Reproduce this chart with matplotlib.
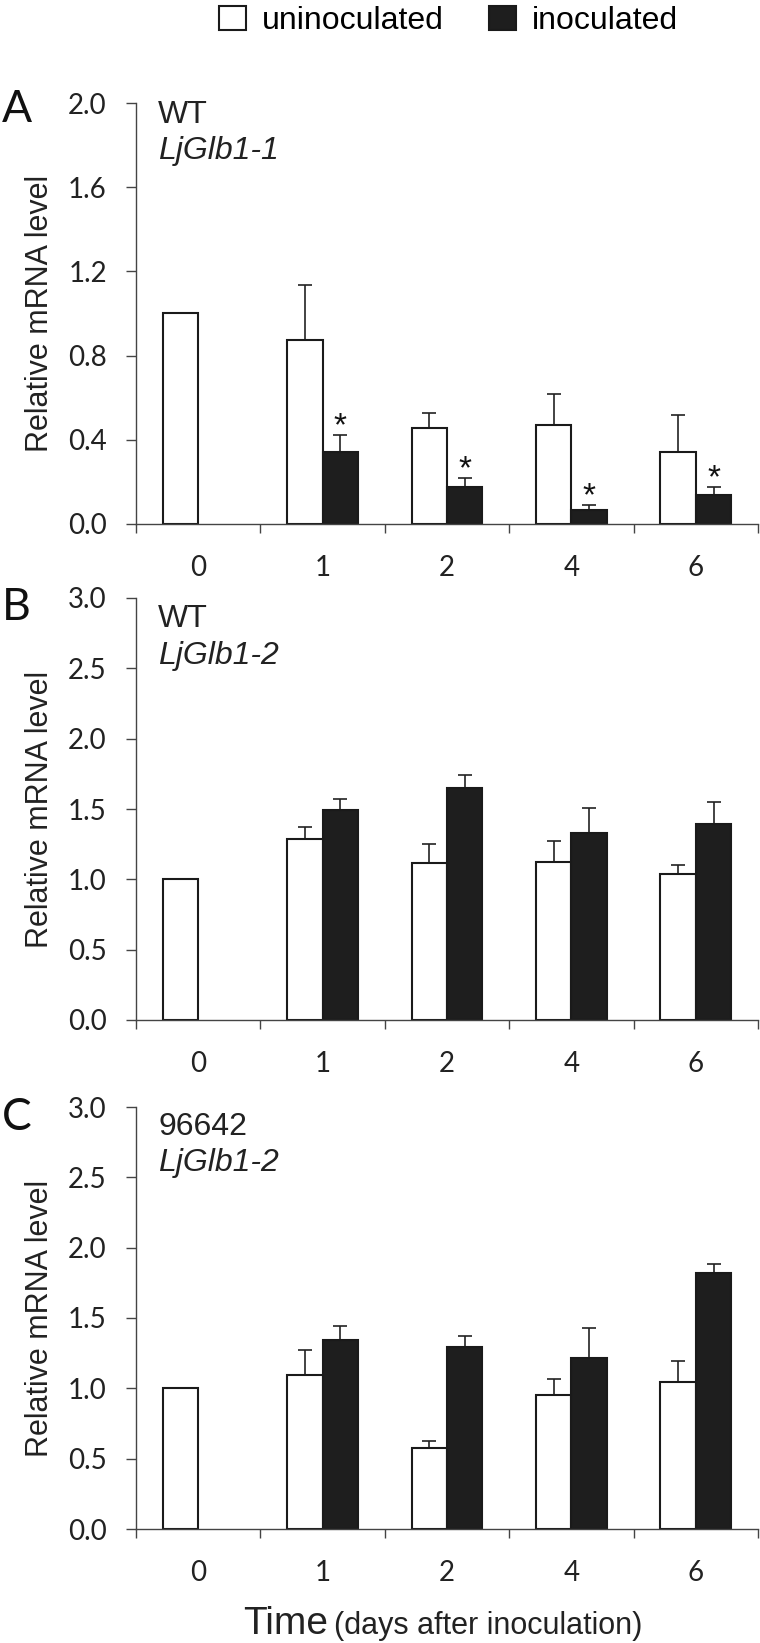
#!/usr/bin/env python3
import numpy as np
import matplotlib
matplotlib.use('Agg')
import matplotlib.pyplot as plt
from matplotlib.patches import Patch

# x categories (days after inoculation)
days = ['0', '1', '2', '4', '6']

# Panel A - WT, LjGlb1-1
a_unino = [1.0, 0.875, 0.456, 0.469, 0.341]
a_unino_err = [0.0, 0.262, 0.071, 0.148, 0.175]
a_ino = [np.nan, 0.340, 0.177, 0.066, 0.137]
a_ino_err = [np.nan, 0.082, 0.041, 0.022, 0.038]
a_sig = [False, True, True, True, True]

# Panel B - WT, LjGlb1-2
b_unino = [1.0, 1.285, 1.117, 1.124, 1.038]
b_unino_err = [0.0, 0.088, 0.137, 0.149, 0.064]
b_ino = [np.nan, 1.494, 1.650, 1.328, 1.396]
b_ino_err = [np.nan, 0.076, 0.095, 0.182, 0.152]
b_sig = [False, False, False, False, False]

# Panel C - 96642, LjGlb1-2
c_unino = [1.0, 1.097, 0.578, 0.952, 1.045]
c_unino_err = [0.0, 0.175, 0.050, 0.112, 0.151]
c_ino = [np.nan, 1.343, 1.296, 1.218, 1.822]
c_ino_err = [np.nan, 0.102, 0.076, 0.209, 0.060]
c_sig = [False, False, False, False, False]

W, H = 760, 1643
TICK_FONT = 'Lato'
TEXT_FONT = 'Liberation Sans'
EDGE = '#1a1a1a'
AXC = '#444444'
BW = 0.285
LEFT = 136


def px_axes(top, bottom, left=LEFT, right=758):
    return [left / W, 1 - bottom / H, (right - left) / W, (bottom - top) / H]


def draw_panel(ax, unino, unino_err, ino, ino_err, sig, ymax, ystep,
               strain, gene, y1, y2):
    x = np.arange(len(days))
    unino = np.array(unino)
    unino_err = np.array(unino_err)
    ino = np.array(ino)
    ino_err = np.array(ino_err)
    has = ~np.isnan(ino)

    ax.bar(x - BW / 2, unino, BW, color='white', edgecolor=EDGE, linewidth=1.5, zorder=2)
    ax.bar(x[has] + BW / 2, ino[has], BW, color='#1e1e1e', edgecolor=EDGE, linewidth=1.5, zorder=2)

    # only the upper half of each error bar is shown
    m = unino_err > 0
    ax.errorbar(x[m] - BW / 2, unino[m], yerr=[np.zeros(m.sum()), unino_err[m]],
                fmt='none', ecolor='#222222', elinewidth=1.2, capsize=5, capthick=1.2, zorder=1)
    ax.errorbar(x[has] + BW / 2, ino[has], yerr=[np.zeros(has.sum()), ino_err[has]],
                fmt='none', ecolor='#222222', elinewidth=1.2, capsize=5, capthick=1.2, zorder=1)

    for i in range(len(days)):
        if sig[i]:
            ax.annotate('*', xy=(i + BW / 2, ino[i] + ino_err[i]), xytext=(0, 0),
                        textcoords='offset points', ha='center', va='baseline',
                        fontsize=24, family=TEXT_FONT, color='#111111')

    ticks = np.arange(0, ymax + ystep / 2, ystep)
    ax.set_xlim(-0.5, len(days) - 0.5)
    ax.set_ylim(0, ymax)
    ax.set_yticks(ticks)
    ax.set_yticklabels([f'{v:.1f}' for v in ticks], family=TICK_FONT, fontsize=20)
    ax.set_xticks(x)
    ax.set_xticklabels(days, family=TICK_FONT, fontsize=20)
    ax.set_xticks(np.arange(-0.5, len(days), 1), minor=True)
    ax.tick_params(axis='x', which='major', length=0, pad=22, colors='#222222')
    ax.tick_params(axis='x', which='minor', length=6.5, width=1.0, color=AXC, direction='out')
    ax.tick_params(axis='y', length=7, width=1.0, pad=14, color=AXC, labelcolor='#222222',
                   direction='out')
    ax.yaxis.set_minor_locator(plt.NullLocator())

    for s in ['top', 'right']:
        ax.spines[s].set_visible(False)
    for s in ['left', 'bottom']:
        ax.spines[s].set_color(AXC)
        ax.spines[s].set_linewidth(1.0)

    ax.set_ylabel('Relative mRNA level', family=TEXT_FONT, fontsize=22, color='#222222')
    ax.yaxis.set_label_coords(-0.13, 0.5)

    ax.text(22 / 622, y1, strain, transform=ax.transAxes, family=TEXT_FONT,
            fontsize=23, va='baseline', ha='left', color='#222222')
    ax.text(22 / 622, y2, gene, transform=ax.transAxes, family=TEXT_FONT,
            fontsize=23, style='italic', va='baseline', ha='left', color='#222222')


fig = plt.figure(figsize=(W / 100, H / 100), dpi=100)

ax_a = fig.add_axes(px_axes(103, 524))
draw_panel(ax_a, a_unino, a_unino_err, a_ino, a_ino_err, a_sig, 2.0, 0.4,
           'WT', 'LjGlb1-1', 0.952, 0.868)

ax_b = fig.add_axes(px_axes(598, 1020))
draw_panel(ax_b, b_unino, b_unino_err, b_ino, b_ino_err, b_sig, 3.0, 0.5,
           'WT', 'LjGlb1-2', 0.931, 0.843)

ax_c = fig.add_axes(px_axes(1107, 1529))
draw_panel(ax_c, c_unino, c_unino_err, c_ino, c_ino_err, c_sig, 3.0, 0.5,
           '96642', 'LjGlb1-2', 0.934, 0.848)

# panel letters
for letter, base in [('A', 122), ('B', 620), ('C', 1130)]:
    fig.text(2 / W, 1 - base / H, letter, family=TICK_FONT, fontsize=32,
             ha='left', va='baseline', color='#111111')

# legend
handles = [Patch(facecolor='white', edgecolor=EDGE, linewidth=1.5, label='uninoculated'),
           Patch(facecolor='#1e1e1e', edgecolor=EDGE, linewidth=1.5, label='inoculated')]
fig.legend(handles=handles, loc='center left', bbox_to_anchor=(219 / W, 1 - 21 / H),
           ncol=2, frameon=False, prop={'family': TEXT_FONT, 'size': 23},
           handlelength=0.85, handleheight=0.8, handletextpad=0.5,
           columnspacing=1.4, borderpad=0, borderaxespad=0)

# x axis title
fig.text(328 / W, 1 - 1634 / H, 'Time', family=TEXT_FONT, fontsize=28,
         ha='right', va='baseline', color='#222222')
fig.text(334 / W, 1 - 1634 / H, '(days after inoculation)', family=TEXT_FONT,
         fontsize=22, ha='left', va='baseline', color='#222222')

plt.savefig('out.png', dpi=100)
print('saved out.png')
